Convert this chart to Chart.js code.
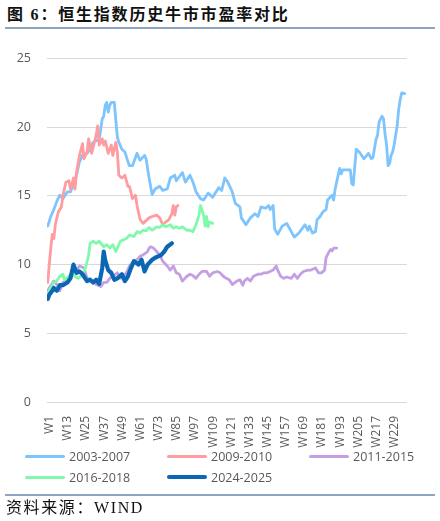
<!DOCTYPE html>
<html><head><meta charset="utf-8">
<script src="https://cdn.jsdelivr.net/npm/chart.js@4.4.1/dist/chart.umd.min.js"></script>
<style>
html,body{margin:0;padding:0;background:#fff;}
body{width:440px;height:521px;overflow:hidden;position:relative;}
#title{position:absolute;left:7px;top:5px;line-height:20px;font-weight:bold;font-size:16px;font-family:"Liberation Serif","Noto Sans CJK SC",serif;letter-spacing:1.8px;color:#111;white-space:nowrap;}
.rule{position:absolute;left:5px;width:430px;height:1.5px;background:#8EA5C1;}
#wrap{position:absolute;left:0;top:35px;width:440px;height:415px;}
#wrap canvas{display:block;}
.item{position:absolute;height:18px;display:flex;align-items:center;font-family:"Open Sans",sans-serif;font-size:12.5px;color:#595959;white-space:nowrap;}
.sw{width:40px;border-radius:2px;margin-right:4px;}
#source{position:absolute;left:6px;top:498px;line-height:20px;font-size:16px;font-family:"Liberation Serif","Noto Sans CJK SC",serif;letter-spacing:1.6px;color:#111;white-space:nowrap;}
</style>
</head>
<body>
<div id="title">图 6：恒生指数历史牛市市盈率对比</div>
<div class="rule" style="top:27px"></div>
<div id="wrap"><canvas id="c" width="440" height="415"></canvas></div>
<div id="legend"></div>
<div class="rule" style="top:494px"></div>
<div id="source">资料来源：WIND</div>
<script>
// ---- data (weekly P/E) ----
const seriesNames = ['2003-2007','2009-2010','2011-2015','2016-2018','2024-2025'];
const xTickWeeks = [1,13,25,37,49,61,73,85,97,109,121,133,145,157,169,181,193,205,217,229];
const xTickLabels = ['W1','W13','W25','W37','W49','W61','W73','W85','W97','W109','W121','W133','W145','W157','W169','W181','W193','W205','W217','W229'];
const yTicks = [0,5,10,15,20,25];

const weeks2003 = [1,3,5,7,9,11,14,16,18,20,22,24,27,29,31,35,37,38,39,40,41,42,43,45,46,47,48,50,52,54,55,57,60,62,65,66,68,70,72,75,77,80,82,85,86,90,92,95,97,99,102,104,107,110,114,116,118,120,123,125,128,129,132,135,138,140,142,145,147,148,150,151,153,156,159,161,164,167,169,171,173,174,176,178,179,181,183,185,186,189,190,191,192,194,195,196,199,201,202,203,204,205,207,210,212,213,215,216,218,219,220,221,222,223,224,225,226,227,228,229,230,232,233,234,235,237];
const pe2003 = [12.8,13.5,14.0,14.6,15.05,14.8,15.3,15.3,15.8,16.5,17.5,17.95,18.1,18.4,18.9,19.1,20.6,20.8,21.6,21.8,21.1,21.6,21.8,21.8,20.5,19.3,18.9,18.4,18.2,17.5,17.2,17.2,18.1,17.6,17.95,17.7,16.3,15.1,15.5,15.7,15.4,15.5,16.3,16.5,16.1,16.7,16.0,16.5,16.0,15.3,14.8,14.7,15.2,14.9,15.6,15.4,16.3,16.0,15.3,14.45,14.2,13.4,12.9,13.4,13.7,13.5,14.2,14.1,14.3,14.0,14.3,12.6,12.2,12.8,13.0,12.6,12.0,12.3,12.6,12.9,12.5,12.8,12.3,12.4,13.25,13.5,13.85,14.0,14.7,15.05,14.7,15.5,16.0,17.0,16.6,16.9,16.9,16.9,15.9,15.8,17.2,18.4,18.2,17.7,17.95,18.1,17.7,17.8,19.1,19.4,20.35,20.6,20.8,20.6,19.5,18.7,17.2,17.35,17.95,18.2,18.7,20.1,21.3,22.0,22.5,22.45];

const weeks2009 = [1,2,3,4,5,6,8,10,11,13,15,16,18,19,20,22,24,25,27,28,30,33,34,35,37,38,39,41,43,44,46,47,48,50,52,54,55,57,59,60,62,64,66,68,70,73,75,77,79,81,83,84,85,86,87];
const pe2009 = [8.7,10.0,11.2,12.2,11.9,12.9,13.85,14.2,15.0,16.0,16.1,15.5,16.3,15.5,16.7,17.95,18.8,17.7,18.2,19.15,18.1,19.4,20.1,18.7,19.15,18.7,19.0,18.1,18.7,17.95,18.9,18.2,16.5,16.3,16.5,15.7,15.7,14.8,15.05,14.3,13.3,13.0,13.2,13.4,13.5,13.6,13.4,12.9,13.1,13.25,13.7,14.3,13.6,14.2,14.3];

const weeks2011 = [1,2,5,7,9,11,14,16,18,20,22,25,27,29,31,33,36,38,40,42,44,47,49,51,53,55,58,60,62,64,67,68,69,71,73,75,77,80,82,84,86,88,90,93,95,97,99,101,103,106,108,110,113,115,117,119,121,123,126,128,130,131,133,135,137,140,142,144,146,148,150,152,153,155,157,159,162,164,166,168,170,173,175,178,180,182,184,185,187,188,189,190,192];
const pe2011 = [8.1,8.3,8.8,8.55,8.1,8.7,8.8,9.15,9.4,9.6,9.9,9.75,9.0,8.9,8.8,8.55,8.4,8.7,8.7,9.0,9.15,9.4,9.0,9.15,9.4,9.9,10.25,10.35,10.6,10.7,10.95,11.2,11.3,11.2,10.95,10.7,10.25,9.9,9.6,9.9,9.4,9.3,8.8,9.15,9.3,9.2,9.0,9.3,9.5,9.5,9.15,9.4,9.5,9.4,9.15,9.0,8.9,8.55,8.8,8.9,8.5,8.8,9.0,8.8,9.15,9.3,9.3,9.4,9.4,9.5,9.6,9.9,9.6,9.15,9.0,9.1,9.0,9.3,9.0,9.3,9.5,9.6,9.6,9.75,9.4,9.4,9.6,10.5,10.95,11.1,11.0,11.2,11.2];

const weeks2016 = [1,2,5,7,9,11,12,15,17,19,21,23,26,28,29,31,33,35,38,40,42,44,46,49,51,53,55,58,60,62,64,66,68,70,73,75,77,79,82,84,86,88,90,93,95,97,99,101,102,104,105,106,107,108,110];
const pe2016 = [7.6,8.1,8.7,8.8,9.15,9.3,8.9,9.15,9.4,9.15,9.0,9.15,9.75,10.7,11.55,11.7,11.55,11.7,11.3,11.45,11.2,11.45,10.95,11.7,11.8,11.9,12.15,12.05,12.4,12.3,12.5,12.45,12.7,12.5,12.75,12.7,12.9,12.75,12.9,12.65,12.75,12.65,12.75,12.5,12.5,12.4,12.9,13.6,14.3,13.6,12.8,13.5,12.75,13.1,13.0];

const weeks2024 = [1,2,4,5,7,9,11,14,16,18,19,20,22,24,27,29,31,33,35,37,38,39,41,43,45,47,50,52,54,56,58,61,63,65,67,70,72,74,76,78,80,83];
const pe2024 = [7.5,7.8,8.1,8.3,8.1,8.5,8.5,8.7,9.0,10.0,9.7,9.4,9.5,9.3,8.8,8.9,8.7,8.9,8.6,9.75,10.95,10.3,9.6,9.4,8.9,9.0,9.3,8.8,9.15,9.75,10.25,10.0,10.35,9.5,10.0,10.35,10.5,10.6,10.7,10.95,11.3,11.55];

const seriesColors = ['#7EC4FD','#FF9CA0','#C4A0E3','#80F9AC','#0B67B4'];
const seriesWidths = [2.8,2.8,2.8,2.8,4.2];

// ---- build ----
const weekSets = [weeks2003,weeks2009,weeks2011,weeks2016,weeks2024];
const valueSets = [pe2003,pe2009,pe2011,pe2016,pe2024];
const drawOrder = [4,3,2,1,0];

const datasets = seriesNames.map((name,i)=>({
  label:name,
  data: weekSets[i].map((w,k)=>({x:w,y:valueSets[i][k]})),
  borderColor: seriesColors[i],
  backgroundColor: seriesColors[i],
  borderWidth: seriesWidths[i],
  pointRadius:0,
  tension:0,
  fill:false,
  order: drawOrder[i],
  borderCapStyle:'round',
  borderJoinStyle:'round'
}));

const tickFont = {family:'"Open Sans", sans-serif', size:12.5};
new Chart(document.getElementById('c'), {
  type:'line',
  data:{datasets},
  options:{
    responsive:false,
    animation:false,
    layout:{padding:{top:0,right:33,left:0,bottom:0}},
    plugins:{legend:{display:false},tooltip:{enabled:false}},
    scales:{
      x:{
        type:'linear', min:0.5, max:238.5,
        afterBuildTicks:(s)=>{ s.ticks = xTickWeeks.map(v=>({value:v})); },
        afterFit:(s)=>{ s.height = 48; },
        grid:{display:false}, border:{display:false},
        ticks:{autoSkip:false, minRotation:90, maxRotation:90, padding:6, labelOffset:2, color:'#595959',
          font:{family:'"Open Sans", sans-serif', size:12},
          callback:(v,i)=>xTickLabels[i]}
      },
      y:{
        min:0, max:25,
        afterBuildTicks:(s)=>{ s.ticks = yTicks.map(v=>({value:v})); },
        afterFit:(s)=>{ s.width = 47; },
        grid:{color:'#D9D9D9', lineWidth:1, drawTicks:false}, border:{display:false},
        ticks:{padding:16, color:'#595959', font:tickFont}
      }
    }
  }
});

// legend (HTML)
const legendPos = [[25,447],[167,447],[309,447],[25,468],[167,468]];
const lg = document.getElementById('legend');
seriesNames.forEach((name,i)=>{
  const d = document.createElement('div');
  d.className='item';
  d.style.left = legendPos[i][0]+'px';
  d.style.top = legendPos[i][1]+'px';
  const sw = document.createElement('span');
  sw.className='sw';
  sw.style.background = seriesColors[i];
  sw.style.height = (i===4?4:3)+'px';
  d.appendChild(sw);
  d.appendChild(document.createTextNode(name));
  lg.appendChild(d);
});
</script>
</body></html>
